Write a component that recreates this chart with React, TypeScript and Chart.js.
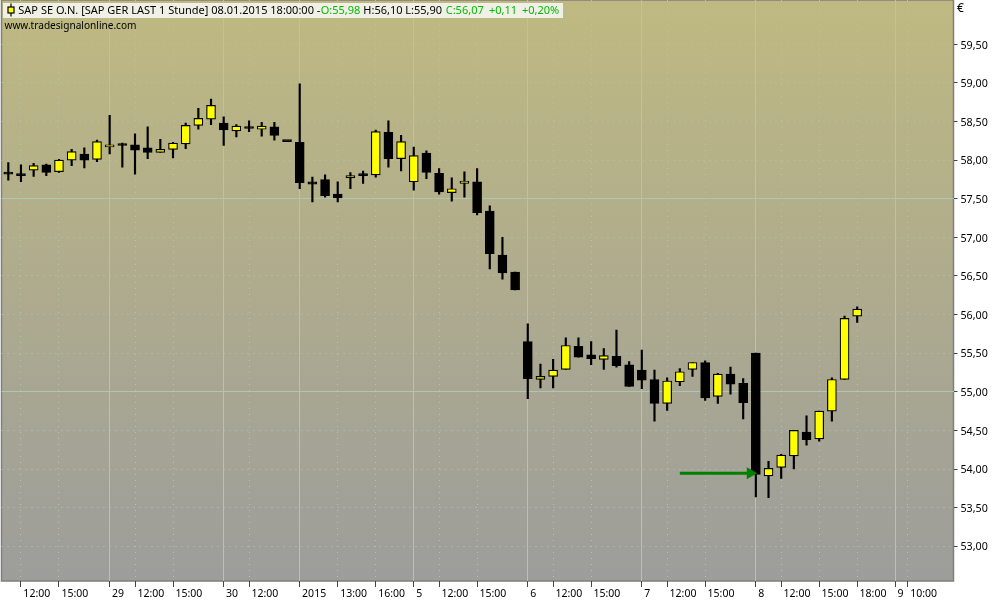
import React, { useEffect, useRef } from "react";
import { Chart, registerables } from "chart.js";

Chart.register(...registerables);

// hourly OHLC, index = bar number on the time axis
const opens = [57.82,57.80,57.87,57.94,57.85,58.00,58.08,58.01,58.17,58.21,58.20,58.16,58.10,58.14,58.21,58.45,58.53,58.48,58.38,58.43,58.40,58.43,58.24,58.23,57.72,57.75,57.56,57.77,57.80,57.81,58.36,58.02,57.72,58.09,57.83,57.58,57.70,57.72,57.34,56.77,56.55,55.65,55.16,55.20,55.29,55.59,55.48,55.42,55.46,55.35,55.28,55.16,54.85,55.13,55.29,55.38,54.94,55.23,55.11,55.50,53.91,54.02,54.17,54.48,54.39,54.75,55.16,55.98];
const highs = [57.97,57.94,57.96,57.95,58.01,58.14,58.16,58.26,58.58,58.22,58.34,58.43,58.27,58.23,58.48,58.67,58.79,58.56,58.46,58.51,58.49,58.49,58.24,58.99,57.78,57.81,57.72,57.84,57.86,58.39,58.51,58.32,58.17,58.12,57.89,57.77,57.85,57.89,57.41,57.00,56.55,55.88,55.36,55.42,55.70,55.70,55.65,55.56,55.80,55.39,55.54,55.28,55.18,55.30,55.38,55.40,55.24,55.32,55.17,55.50,54.10,54.19,54.50,54.69,54.75,55.18,55.98,56.10];
const lows = [57.74,57.72,57.79,57.80,57.84,57.93,57.90,57.98,58.08,57.91,57.82,58.02,58.10,58.03,58.15,58.40,58.46,58.19,58.30,58.37,58.31,58.26,58.24,57.63,57.46,57.52,57.46,57.63,57.70,57.78,57.91,57.86,57.61,57.76,57.56,57.47,57.52,57.29,56.59,56.46,56.32,54.91,55.05,55.05,55.29,55.45,55.35,55.29,55.32,55.07,55.04,54.62,54.76,55.08,55.20,54.89,54.85,54.97,54.65,53.64,53.63,53.88,54.00,54.31,54.36,54.62,55.16,55.90];
const closes = [57.82,57.80,57.93,57.84,58.00,58.11,58.00,58.24,58.20,58.19,58.13,58.10,58.14,58.22,58.45,58.54,58.71,58.39,58.44,58.41,58.44,58.32,58.24,57.71,57.69,57.54,57.51,57.80,57.80,58.37,58.02,58.24,58.06,57.84,57.59,57.63,57.73,57.32,56.79,56.54,56.32,55.17,55.20,55.28,55.60,55.45,55.43,55.47,55.34,55.07,55.15,54.85,55.14,55.26,55.38,54.92,55.23,55.10,54.86,53.93,54.01,54.18,54.50,54.38,54.75,55.16,55.95,56.07];

const xTickIndex = [1,4,8,10,13,17,19,23,26,29,32,34,37,41,43,46,50,52,55,59,61,64,67,70,71];
const xTickLabels = ["12:00","15:00","29","12:00","15:00","30","12:00","2015","13:00","16:00","5","12:00","15:00","6","12:00","15:00","7","12:00","15:00","8","12:00","15:00","18:00","9","10:00"];
const yTickLabels = ["53,00","53,50","54,00","54,50","55,00","55,50","56,00","56,50","57,00","57,50","58,00","58,50","59,00","59,50"];
const ySolidLevels = [55, 57.5, 60];
const arrowX = [53, 58.56];
const arrowY = [53.945, 53.945];

const headerMain = "SAP SE O.N. [SAP GER LAST 1 Stunde] 08.01.2015 18:00:00 -";
const headerParts: [string, number, string][] = [
  [headerMain, 18.3, "#000000"],
  ["O:55,98", 320.7, "#00bb00"],
  ["H:56,10", 363.3, "#000000"],
  ["L:55,90", 405.3, "#000000"],
  ["C:56,07", 445.7, "#00bb00"],
  ["+0,11", 489, "#00bb00"],
  ["+0,20%", 522, "#00bb00"],
];
const siteLabel = "www.tradesignalonline.com";
const currencyLabel = "€";

const FONT = '11px "Noto Sans"';
const GRID = "rgb(172,200,176)";

const backdrop = {
  id: "backdrop",
  beforeDraw(chart: any) {
    const { ctx, chartArea: a } = chart;
    const g = ctx.createLinearGradient(0, a.top, 0, a.bottom);
    g.addColorStop(0, "#bfb981");
    g.addColorStop(1, "#9d9d9b");
    ctx.save();
    ctx.fillStyle = g;
    ctx.fillRect(a.left, a.top, a.right - a.left, a.bottom - a.top);
    ctx.strokeStyle = "#7f7f7f";
    ctx.lineWidth = 1.5;
    ctx.strokeRect(a.left, a.top, a.right - a.left, a.bottom - a.top);
    ctx.restore();
  },
  afterDraw(chart: any) {
    const { ctx } = chart;
    ctx.save();
    ctx.fillStyle = "#f1f0e6";
    ctx.fillRect(3, 3, 560, 15);
    ctx.strokeStyle = "#000";
    ctx.lineWidth = 1.2;
    ctx.beginPath();
    ctx.moveTo(11, 3.5);
    ctx.lineTo(11, 16.5);
    ctx.stroke();
    ctx.fillStyle = "#ffff00";
    ctx.fillRect(8, 7, 6, 6);
    ctx.strokeRect(8, 7, 6, 6);
    ctx.font = FONT;
    ctx.textBaseline = "middle";
    ctx.textAlign = "left";
    for (const [text, x, color] of headerParts) {
      ctx.fillStyle = color;
      ctx.fillText(text, x, 10.5);
    }
    ctx.fillStyle = "#000";
    ctx.font = '10.1px "Noto Sans"';
    ctx.fillText(siteLabel, 4.5, 26);
    ctx.font = '12px "Noto Sans"';
    ctx.fillText(currencyLabel, 957, 8.5);
    ctx.restore();
  },
};

export default function App() {
  const ref = useRef<HTMLCanvasElement>(null);
  useEffect(() => {
    const idx = opens.map((_, i) => i);
    const chart = new Chart(ref.current!, {
      type: "bar",
      plugins: [backdrop],
      data: {
        datasets: [
          {
            type: "line",
            order: 0,
            data: arrowX.map((x, i) => ({ x, y: arrowY[i] })),
            borderColor: "#007f00",
            borderWidth: 3,
            backgroundColor: "#007f00",
            pointStyle: "triangle",
            pointRotation: 90,
            pointRadius: [0, 7],
            pointBorderWidth: 0,
          },
          {
            order: 1,
            data: idx.map((i) => ({ x: i, y: [opens[i], closes[i]] })),
            backgroundColor: idx.map((i) => (closes[i] > opens[i] ? "#ffff00" : "#000000")),
            borderColor: "#000000",
            borderWidth: 1.2,
            borderSkipped: false,
            barThickness: 9,
            minBarLength: 2,
          },
          {
            order: 2,
            data: idx.map((i) => ({ x: i, y: [lows[i], highs[i]] })),
            backgroundColor: "#000000",
            borderWidth: 0,
            barThickness: 1.5,
          },
        ] as any,
      },
      options: {
        responsive: false,
        animation: false,
        events: [],
        layout: { autoPadding: false, padding: { left: 1.5, top: 0, right: 0, bottom: 0 } },
        plugins: { legend: { display: false }, tooltip: { enabled: false }, title: { display: false } },
        datasets: { bar: { grouped: false } },
        scales: {
          x: {
            type: "linear",
            offset: false,
            min: -0.537,
            max: 74.6,
            afterBuildTicks: (s: any) => {
              s.ticks = xTickIndex.map((value) => ({ value }));
            },
            afterFit: (s: any) => {
              s.height = 19;
              s.paddingLeft = 0;
              s.paddingRight = 0;
            },
            border: {
              display: false,
              dash: (c: any) => (xTickLabels[xTickIndex.indexOf(c.tick?.value)]?.includes(":") ? [1, 5] : []),
            },
            grid: { offset: false, color: GRID, lineWidth: 1, tickLength: 6, tickColor: "#444444" },
            ticks: {
              autoSkip: false,
              maxRotation: 0,
              minRotation: 0,
              align: "start",
              labelOffset: 2.4,
              padding: 1,
              color: "#000000",
              font: { family: "Noto Sans", size: 10.5 },
              callback: (v: any) => xTickLabels[xTickIndex.indexOf(v)] ?? null,
            },
          },
          y: {
            position: "right",
            min: 52.55,
            max: 60.074,
            afterBuildTicks: (s: any) => {
              const t = [];
              for (let n = 526; n <= 600; n++) t.push({ value: n / 10 });
              s.ticks = t;
            },
            afterFit: (s: any) => {
              s.width = 46.5;
              s.paddingTop = 0;
              s.paddingBottom = 0;
            },
            border: {
              display: false,
              dash: (c: any) => (ySolidLevels.includes(c.tick?.value) ? [] : [1, 5]),
            },
            grid: {
              color: (c: any) => (Math.round(c.tick.value * 10) % 5 === 0 ? GRID : "rgba(0,0,0,0)"),
              lineWidth: 1,
              tickLength: 4,
              tickColor: "#444444",
            },
            ticks: {
              autoSkip: false,
              padding: 3,
              labelOffset: 1.2,
              color: "#000000",
              font: { family: "Noto Sans", size: 10.7 },
              callback: (v: any) => {
                const s = Number(v).toFixed(2).replace(".", ",");
                return yTickLabels.includes(s) ? s : null;
              },
            },
          },
        },
      } as any,
    });
    return () => chart.destroy();
  }, []);
  return (
    <div style={{ position: "fixed", left: 0, top: 0, width: 1000, height: 600, background: "#fff" }}>
      <canvas ref={ref} width={1000} height={600} style={{ display: "block" }} />
    </div>
  );
}
